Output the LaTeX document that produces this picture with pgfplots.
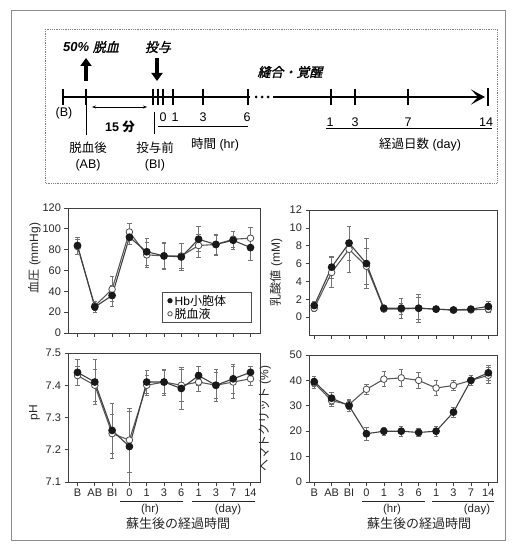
\documentclass[border=0pt]{standalone}
\usepackage{fontspec}
\setmainfont{Liberation Sans}
\newfontfamily\cjk{Noto Sans CJK JP}
\newfontfamily\cjkbi{Noto Sans CJK JP}[FakeSlant=0.22,FakeBold=1.5]
\usepackage{pgfplots}
\pgfplotsset{compat=1.18}
\usetikzlibrary{arrows.meta}

\pgfplotsset{
  panel/.style={
    scale only axis,
    xtick={0,...,10},
    xticklabels={},
    tick align=outside, tick pos=left,
    major tick length=3.5pt,
    axis line style={black!75, line width=0.9pt},
    every tick/.style={black!75, line width=0.7pt},
    tick label style={font=\fontsize{11}{12}\selectfont, black!85},
    ylabel style={font=\fontsize{12}{12}\selectfont, black!85, anchor=center},
    /pgf/number format/assume math mode=true,
    clip=false,
  },
  leftp/.style={panel, xmin=-0.55, xmax=10.55, width=192pt},
  rightp/.style={panel, xmin=-0.3, xmax=10.5, width=188pt},
  bottomx/.style={xticklabels={B,AB,BI,0,1,3,6,1,3,7,14}},
  hb/.style={black!75, line width=1.1pt, mark=*, mark size=3.3pt,
    mark options={fill=black!90, draw=black!90, solid},
    error bars/.cd, y dir=both, y explicit,
    error bar style={black!55, line width=0.6pt},
    error mark options={rotate=90, mark size=2.2pt, black!55, line width=0.6pt}},
  ctl/.style={black!65, line width=1.1pt, mark=*, mark size=3.3pt,
    mark options={fill=white, draw=black!70, line width=0.8pt, solid},
    error bars/.cd, y dir=both, y explicit,
    error bar style={black!55, line width=0.6pt},
    error mark options={rotate=90, mark size=2.2pt, black!55, line width=0.6pt}},
}

\begin{document}
\begin{tikzpicture}
\begin{scope}[x=1pt, y=-1pt]
  \path (0,0) rectangle (513,548);
  % frames
  \draw[black!45, line width=0.8pt] (11,10) rectangle (505,540);
  \draw[black!50, line width=0.8pt, densely dotted] (45,29) rectangle (497,183);
  % timeline
  \draw[line width=2.4pt] (63,97) -- (250,97);
  \draw[line width=2.4pt, -{Stealth[length=14pt,width=15pt,inset=7pt]}] (273,97) -- (485,97);
  \foreach \x in {256,262,268} \fill (\x,97) circle (1.5);
  \foreach \x in {63,86,153,158,163,173,203,248,331,355,408}
    \draw[line width=2pt] (\x,89) -- (\x,105);
  \draw[line width=2pt] (488,88) -- (488,106);
  \draw[line width=3.2pt, -{Triangle[length=8pt,width=11pt]}] (86,81) -- (86,58);
  \draw[line width=3.2pt, -{Triangle[length=8pt,width=11pt]}] (157,58) -- (157,81);
  \node[font=\fontsize{13}{13}\selectfont\bfseries\itshape] at (91,47) {50\% {\cjkbi\mdseries 脱血}};
  \node[font=\fontsize{13}{13}\selectfont\cjkbi] at (158,47) {投与};
  \node[font=\fontsize{13}{13}\selectfont\cjkbi] at (290,72) {縫合・覚醒};
  \begin{scope}[font=\fontsize{12.5}{13}\selectfont]
    \node at (64,113) {(B)};
    \draw[line width=0.8pt] (86,105) -- (86,135);
    \draw[line width=0.8pt] (154,112) -- (154,134);
    \node at (88,148) {\cjk 脱血後};
    \node at (88,165) {(AB)};
    \draw[line width=0.8pt, {Stealth[length=4pt]}-{Stealth[length=4pt]}] (92,107) -- (147,107);
    \node[font=\fontsize{12.5}{13}\selectfont\bfseries] at (120,127) {15 {\cjk 分}};
    \node at (155,148) {\cjk 投与前};
    \node at (155,165) {(BI)};
    \node at (163,117) {0};
    \node at (175,117) {1};
    \node at (203,117) {3};
    \node at (247,117) {6};
    \draw[line width=0.8pt] (158,126) -- (248,126);
    \node at (215,145) {{\cjk 時間} (hr)};
    \node at (330,122) {1};
    \node at (355,122) {3};
    \node at (408,122) {7};
    \node at (486,122) {14};
    \draw[line width=0.8pt] (326,128) -- (492,128);
    \node at (420,145) {{\cjk 経過日数} (day)};
  \end{scope}
  % bottom annotations
  \begin{scope}[black!85, line width=0.8pt, font=\fontsize{11.5}{12}\selectfont]
    \draw (120,501) -- (183,501);
    \draw (192,501) -- (255,501);
    \draw (362,501) -- (425,501);
    \draw (432,501) -- (494,501);
    \node at (150,510) {(hr)};
    \node at (228,510) {(day)};
    \node at (392,510) {(hr)};
    \node at (477,510) {(day)};
    \node[font=\fontsize{13}{13}\selectfont\cjk] at (178,524) {蘇生後の経過時間};
    \node[font=\fontsize{13}{13}\selectfont\cjk] at (419,524) {蘇生後の経過時間};
  \end{scope}
\end{scope}

% Blood pressure
\begin{axis}[leftp, at={(68pt,-333pt)}, anchor=south west, height=125pt,
  ymin=0, ymax=120, ytick={0,20,...,120},
  ylabel={{\cjk 血圧} (mmHg)},
  ylabel style={at={(axis description cs:-0.175,0.6)}},
  legend style={at={(0.958,0.08)}, anchor=south east, draw=black!70, line width=0.8pt,
    font=\fontsize{12}{12}\selectfont, row sep=0.5pt, inner xsep=5pt, inner ysep=2.5pt,
    nodes={inner ysep=0.5pt, inner xsep=2.5pt}},
  legend cell align=left]
  \addlegendimage{only marks, mark=*, mark size=2.2pt, mark options={fill=black!90, draw=black!90}}
  \addlegendentry{Hb{\cjk 小胞体}\hspace*{18pt}}
  \addlegendimage{only marks, mark=*, mark size=2.2pt, mark options={fill=white, draw=black!70, line width=0.8pt}}
  \addlegendentry{\cjk 脱血液}
  \addplot[forget plot, ctl] coordinates {
    (0,83) +- (0,7) (1,26) +- (0,4) (2,42) +- (0,12) (3,97) +- (0,8)
    (4,75) +- (0,12) (5,74) +- (0,12) (6,74) +- (0,12) (7,84) +- (0,11)
    (8,85) +- (0,9) (9,90) +- (0,8) (10,91) +- (0,10)};
  \addplot[forget plot, hb] coordinates {
    (0,84) +- (0,8) (1,25) +- (0,5) (2,36) +- (0,10) (3,92) +- (0,7)
    (4,78) +- (0,13) (5,74) +- (0,13) (6,73) +- (0,13) (7,90) +- (0,12)
    (8,85) +- (0,10) (9,89) +- (0,9) (10,82) +- (0,12)};
\end{axis}

% Lactate
\begin{axis}[rightp, at={(309pt,-335pt)}, anchor=south west, height=125pt,
  ymin=-2, ymax=12, ytick={0,2,...,12},
  ylabel={{\cjk 乳酸値} (mM)},
  ylabel style={at={(axis description cs:-0.175,0.5)}}]
  \addplot[ctl] coordinates {
    (0,1.0) +- (0,0.4) (1,5.0) +- (0,1.7) (2,7.6) +- (0,2.6) (3,5.7) +- (0,2.0)
    (4,0.9) +- (0,0.3) (5,0.9) +- (0,0.6) (6,1.0) +- (0,1.2) (7,0.9) +- (0,0.3)
    (8,0.8) +- (0,0.2) (9,0.8) +- (0,0.3) (10,0.9) +- (0,0.4)};
  \addplot[hb] coordinates {
    (0,1.3) +- (0,0.5) (1,5.6) +- (0,1.2) (2,8.3) +- (0,1.9) (3,6.0) +- (0,2.8)
    (4,1.0) +- (0,0.3) (5,1.0) +- (0,1.1) (6,1.0) +- (0,1.6) (7,0.9) +- (0,0.3)
    (8,0.8) +- (0,0.2) (9,0.9) +- (0,0.3) (10,1.2) +- (0,0.6)};
\end{axis}

% pH
\begin{axis}[leftp, bottomx, at={(68pt,-482pt)}, anchor=south west, height=129pt,
  ymin=7.1, ymax=7.5, ytick={7.1,7.2,7.3,7.4,7.5},
  yticklabel style={/pgf/number format/.cd, fixed, fixed zerofill, precision=1},
  ylabel={pH},
  ylabel style={at={(axis description cs:-0.175,0.54)}}]
  \addplot[ctl] coordinates {
    (0,7.43) +- (0,0.03) (1,7.40) +- (0,0.05) (2,7.25) +- (0,0.06) (3,7.23) +- (0,0.10)
    (4,7.40) +- (0,0.03) (5,7.41) +- (0,0.035) (6,7.40) +- (0,0.05) (7,7.41) +- (0,0.03)
    (8,7.40) +- (0,0.04) (9,7.41) +- (0,0.05) (10,7.42) +- (0,0.02)};
  \addplot[hb] coordinates {
    (0,7.44) +- (0,0.04) (1,7.41) +- (0,0.07) (2,7.26) +- (0,0.085) (3,7.21) +- (0,0.11)
    (4,7.41) +- (0,0.035) (5,7.41) +- (0,0.04) (6,7.39) +- (0,0.065) (7,7.43) +- (0,0.03)
    (8,7.40) +- (0,0.05) (9,7.42) +- (0,0.045) (10,7.44) +- (0,0.02)};
\end{axis}

% Hematocrit
\begin{axis}[rightp, bottomx, at={(309pt,-482pt)}, anchor=south west, height=127pt,
  ymin=0, ymax=50, ytick={0,10,...,50},
  ylabel={{\cjk ヘマトクリット} (\%)},
  ylabel style={at={(axis description cs:-0.235,0.5)}}]
  \addplot[ctl] coordinates {
    (0,39) +- (0,2) (1,32) +- (0,2) (2,30.5) +- (0,2) (3,36.5) +- (0,2)
    (4,40.5) +- (0,3) (5,41) +- (0,3.5) (6,40) +- (0,3) (7,37) +- (0,3)
    (8,38) +- (0,2) (9,40) +- (0,2) (10,42) +- (0,3)};
  \addplot[hb] coordinates {
    (0,39.5) +- (0,2) (1,33) +- (0,2.5) (2,30) +- (0,2) (3,19) +- (0,2.5)
    (4,20) +- (0,1.5) (5,20) +- (0,2) (6,19.5) +- (0,1.5) (7,20) +- (0,2)
    (8,27.5) +- (0,2) (9,40) +- (0,2) (10,43) +- (0,3)};
\end{axis}
\end{tikzpicture}
\end{document}
